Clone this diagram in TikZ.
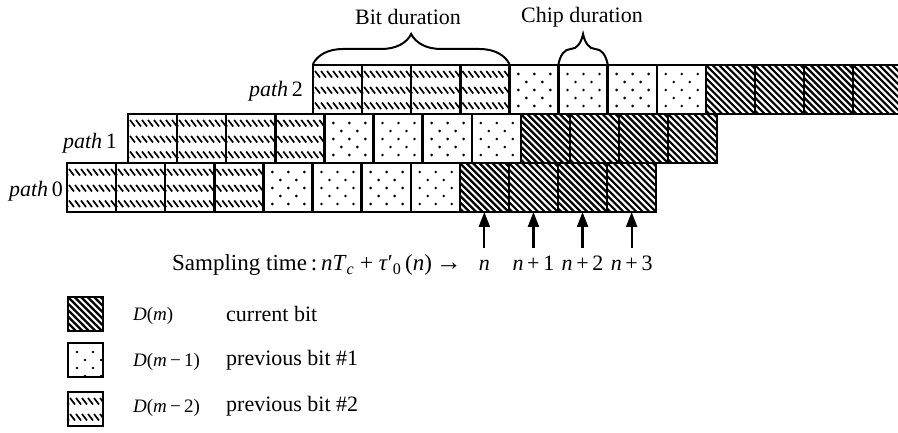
\documentclass[tikz,border=0pt]{standalone}
\usepackage{fontspec}
\setmainfont{Liberation Serif}
\usetikzlibrary{arrows.meta,decorations.pathreplacing}
\tikzset{
 cell/.style={draw,line width=2.4pt,minimum width=49.1pt,minimum height=49pt,inner sep=0pt,outer sep=0pt,anchor=north west},
 lcell/.style={cell,minimum width=35pt,minimum height=34pt},
 dmA/.style={path picture={\foreach \o in {-65,-58.5,...,60}{\draw[line width=2.2pt] ([xshift=\o pt]path picture bounding box.north west) -- ++(62pt,-62pt);}}},
 dmB/.style={path picture={\foreach \i in {0,1,2}{\foreach \j in {0,1,2}{\fill ([xshift={9pt+16pt*\i},yshift={-9pt-16pt*\j}]path picture bounding box.north west) circle (1.45pt);}}\foreach \i in {0,1}{\foreach \j in {0,1}{\fill ([xshift={17pt+16pt*\i},yshift={-17pt-16pt*\j}]path picture bounding box.north west) circle (1.45pt);}}}},
 dmC/.style={path picture={\foreach \r in {6,22,37.5}{\foreach \o in {-4,2,...,50}{\draw[line width=1.7pt] ([xshift=\o pt,yshift=-\r pt]path picture bounding box.north west) -- ++(5pt,-6.5pt);}}}},
 txt/.style={inner sep=0pt,font=\fontsize{22}{26}\selectfont},
 stxt/.style={inner sep=0pt,font=\fontsize{19}{23}\selectfont},
 arr/.style={line width=2.2pt,-{Triangle[length=15pt,width=11pt]}},
 brc/.style={decorate,decoration={brace,amplitude=30pt,raise=1pt},line width=2pt},
}
\begin{document}
\begin{tikzpicture}[x=1pt,y=-1pt]
\clip (0,0) rectangle (898,433);
% path 0
\foreach \k in {1,...,4} \node[cell,dmC] (p0-\k) at ({67+(\k-1)*49.1},163) {};
\foreach \k in {5,...,8} \node[cell,dmB] (p0-\k) at ({67+(\k-1)*49.1},163) {};
\foreach \k in {9,...,12} \node[cell,dmA] (p0-\k) at ({67+(\k-1)*49.1},163) {};
% path 1
\foreach \k in {1,...,4} \node[cell,dmC] (p1-\k) at ({128+(\k-1)*49.1},114) {};
\foreach \k in {5,...,8} \node[cell,dmB] (p1-\k) at ({128+(\k-1)*49.1},114) {};
\foreach \k in {9,...,12} \node[cell,dmA] (p1-\k) at ({128+(\k-1)*49.1},114) {};
% path 2
\foreach \k in {1,...,4} \node[cell,dmC] (p2-\k) at ({313+(\k-1)*49.1},65) {};
\foreach \k in {5,...,8} \node[cell,dmB] (p2-\k) at ({313+(\k-1)*49.1},65) {};
\foreach \k in {9,...,12} \node[cell,dmA] (p2-\k) at ({313+(\k-1)*49.1},65) {};
% path labels
\node[txt,anchor=east] (l2) at (303,91) {\textit{path}\,2};
\node[txt,anchor=east] (l1) at (117,143) {\textit{path}\,1};
\node[txt,anchor=east] (l0) at (63,191) {\textit{path}\,0};
% braces
\draw[brc] (p2-1.north west) -- (p2-4.north east);
\draw[brc] (p2-6.north west) -- (p2-6.north east);
\node[txt] (bit) at (408,17) {Bit duration};
\node[txt] (chip) at (582,17) {Chip duration};
% sampling arrows
\coordinate (bl) at (0,271);
\foreach \k in {9,...,12}{
  \path (p0-\k.south) ++(0,36) coordinate (t\k);
  \draw[arr] (t\k) -- (p0-\k.south);
}
\node[txt,anchor=base] (n9) at (p0-9.south |- bl) {\textit{n}};
\node[txt,anchor=base] (n10) at (p0-10.south |- bl) {\textit{n}\,+\,1};
\node[txt,anchor=base] (n11) at (p0-11.south |- bl) {\textit{n}\,+\,2};
\node[txt,anchor=base] (n12) at (p0-12.south |- bl) {\textit{n}\,+\,3};
\node[txt,anchor=base west,font=\fontsize{23}{27}\selectfont] (samp) at (172,271) {Sampling time\,:\,\textit{nT}\textsubscript{\textit{c}} + \textit{τ}′\textsubscript{0}\,(\textit{n})\,{\fontsize{26}{28}\selectfont →}};
% legend
\node[lcell,dmA] (lg1) at (68,297) {};
\node[lcell,dmB] (lg2) at (68,343) {};
\node[lcell,dmC] (lg3) at (68,392) {};
\node[stxt,anchor=west] (d1) at (133,316) {\textit{D}(\textit{m})};
\node[stxt,anchor=west] (d2) at (133,362) {\textit{D}(\textit{m}\,−\,1)};
\node[stxt,anchor=west] (d3) at (133,408) {\textit{D}(\textit{m}\,−\,2)};
\node[txt,anchor=west] (e1) at (226,314) {current bit};
\node[txt,anchor=west] (e2) at (226,360) {previous bit \#1};
\node[txt,anchor=west] (e3) at (226,406) {previous bit \#2};
\end{tikzpicture}
\end{document}
